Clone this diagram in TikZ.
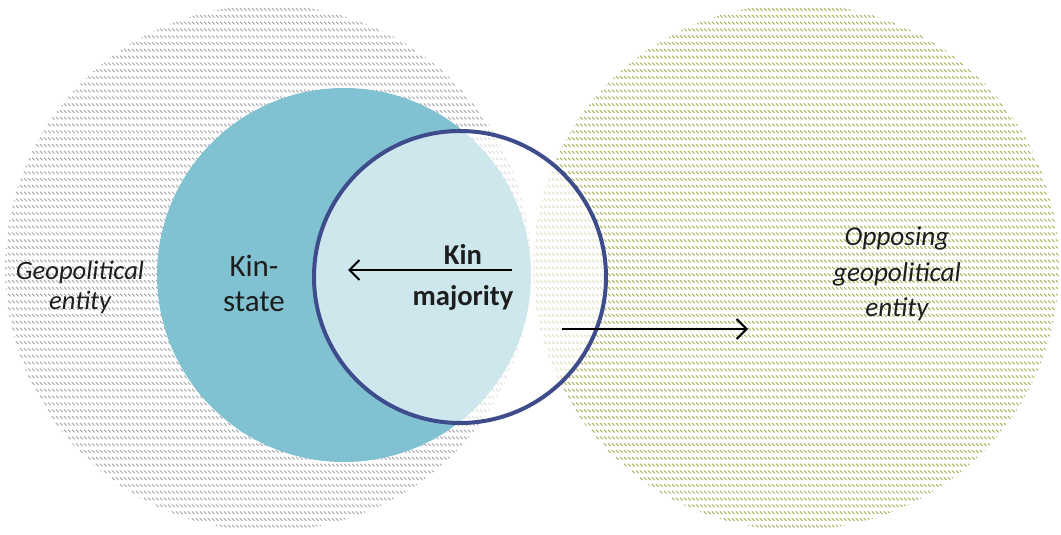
\documentclass[tikz,border=0pt]{standalone}
\usepackage{fontspec}
\setmainfont{Carlito}
\usetikzlibrary{patterns,arrows.meta}

\definecolor{hatchgray}{RGB}{165,165,175}
\definecolor{hatcholive}{RGB}{165,172,85}
\definecolor{kinteal}{RGB}{128,194,209}
\definecolor{ringblue}{RGB}{62,76,140}
\definecolor{txt}{RGB}{30,30,30}

% rows of short diagonal strokes
\pgfdeclarepatternformonly{diagrows}{\pgfpoint{-1pt}{-1pt}}{\pgfpoint{3pt}{4.4pt}}{\pgfpoint{2pt}{3.4pt}}{%
  \pgfsetlinewidth{0.45pt}%
  \pgfpathmoveto{\pgfpoint{0pt}{1.6pt}}%
  \pgfpathlineto{\pgfpoint{1.3pt}{0.3pt}}%
  \pgfusepath{stroke}}

\tikzset{
  entity/.style={circle,inner sep=0pt,minimum size=263pt,pattern=diagrows},
  label/.style={align=center,text=txt},
  flow/.style={line width=1pt,-{Straight Barb[length=5pt,width=10pt,line width=1pt]}}
}

\begin{document}
\begin{tikzpicture}[x=0.5pt,y=-0.5pt]
      \useasboundingbox (0,0) rectangle (1061,535);

      \node[entity,pattern color=hatchgray] (geo) at (268,268) {};
      \node[entity,pattern color=hatcholive] (opp) at (796,267) {};
      \node[circle,inner sep=0pt,minimum size=187pt,fill=kinteal] (kinstate) at (344,275) {};
      \node[circle,inner sep=0pt,minimum size=146pt,fill=white,fill opacity=0.62,draw=ringblue,draw opacity=1,line width=2pt] (kinmaj) at (460,277) {};

      \node[label,font=\fontsize{13.3}{15}\selectfont\itshape] (geotext) at (80,287) {Geopolitical\\entity};
      \node[label,font=\fontsize{15.5}{17.5}\selectfont] (kstext) at (254,283) {Kin-\\state};
      \node[label,font=\fontsize{14.3}{20.5}\selectfont\bfseries] (kmtext) at (463,277) {Kin\\majority};
      \node[label,font=\fontsize{13.6}{17.7}\selectfont\itshape] (opptext) at (897,274) {Opposing\\geopolitical\\entity};

      \coordinate (inA) at (512,270);
      \coordinate (inB) at (348,270);
      \coordinate (outA) at (562,329);
      \coordinate (outB) at (748,329);

      \draw[flow] (inA) -- (inB);
      \draw[flow] (outA) -- (outB);
    \end{tikzpicture}
\end{document}
